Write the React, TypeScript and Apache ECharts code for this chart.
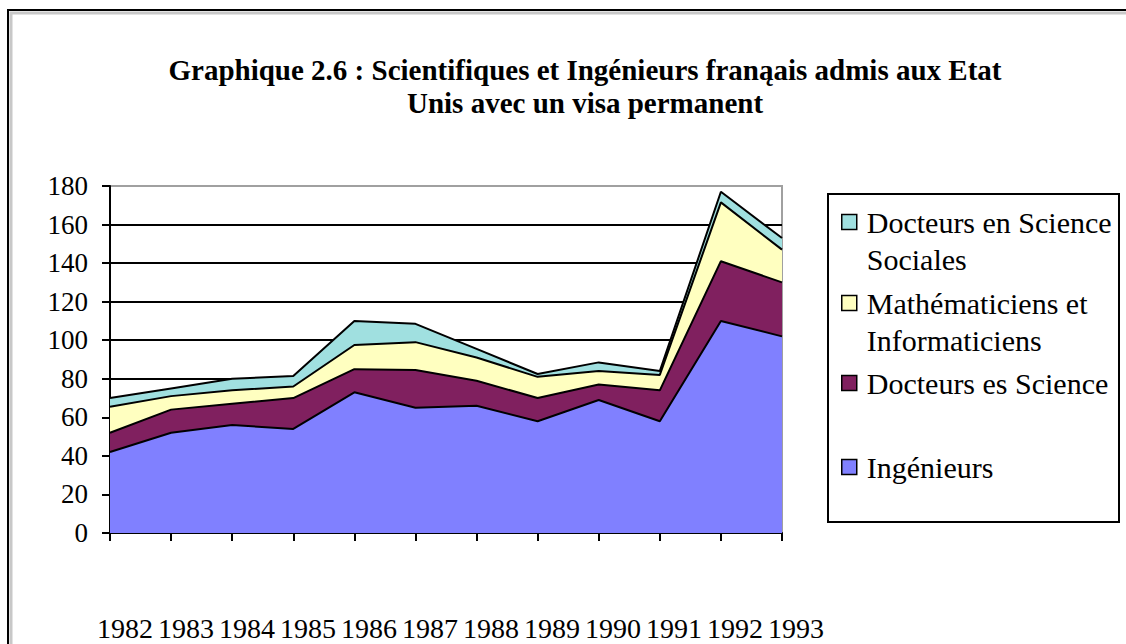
import React, { useEffect, useRef } from 'react';
import * as echarts from 'echarts';

const FONT = "'Liberation Serif', 'Times New Roman', 'DejaVu Serif', serif";

const years = ['1982', '1983', '1984', '1985', '1986', '1987', '1988', '1989', '1990', '1991', '1992', '1993'];
const ingenieurs = [42, 52, 56, 54, 73, 65, 66, 58, 69, 58, 110, 102];
const docteursSciences = [10, 12, 11, 16, 12, 19.5, 13, 12, 8, 16, 31, 28];
const mathInfo = [13.5, 7, 7, 6, 12.5, 14.5, 12, 11, 7, 8, 30.5, 17];
const docteursSocial = [4.5, 4, 6, 5.5, 12.5, 9.5, 4.5, 1.5, 4.5, 2, 5.5, 6];

const titleLines = [
  'Graphique 2.6 : Scientifiques et Ingénieurs franąais admis aux Etat',
  'Unis avec un visa permanent',
];

const seriesDefs = [
  { name: 'Ingénieurs', label: 'Ingénieurs', data: ingenieurs, color: '#8080FF' },
  { name: 'Docteurs es Sciences', label: 'Docteurs es Sciences', data: docteursSciences, color: '#80205F' },
  { name: 'Mathématiciens et Informaticiens', label: 'Mathématiciens et\nInformaticiens', data: mathInfo, color: '#FFFFC0' },
  { name: 'Docteurs en Sciences Sociales', label: 'Docteurs en Sciences\nSociales', data: docteursSocial, color: '#A0E0E0' },
];

// legend first-line centre positions (top to bottom: Social, Math, Docteurs es, Ingénieurs)
const legendOrder = [
  { idx: 3, line: 222 },
  { idx: 2, line: 303 },
  { idx: 1, line: 383 },
  { idx: 0, line: 467 },
];

export default function App() {
  const ref = useRef<HTMLDivElement>(null);
  useEffect(() => {
    if (!ref.current) return;
    const chart = echarts.init(ref.current, null, { renderer: 'svg' });
    const lineH = 37;
    const legends = legendOrder.map(({ idx, line }) => {
      const d = seriesDefs[idx];
      const twoLine = d.label.includes('\n');
      const top = twoLine ? line - 7.5 - 48 : line - 18.5;
      return {
        show: true,
        orient: 'vertical',
        left: 841,
        top,
        padding: 0,
        itemGap: 0,
        itemWidth: 15,
        itemHeight: 15,
        icon: 'rect',
        selectedMode: false,
        data: [d.name],
        formatter: () => (twoLine ? ' \n' + d.label : d.label),
        itemStyle: { borderColor: '#000', borderWidth: 1.5 },
        textStyle: {
          fontFamily: FONT,
          fontSize: 30,
          color: '#000',
          lineHeight: lineH,
          padding: [0, 0, 0, 5],
          width: 248,
          overflow: 'truncate',
          ellipsis: '',
        },
      };
    });

    chart.setOption({
      animation: false,
      backgroundColor: '#fff',
      textStyle: { fontFamily: FONT },
      graphic: [
        {
          type: 'rect',
          shape: { x: 11, y: 13, width: 1300, height: 800 },
          style: { fill: 'none', stroke: '#c8c8c8', lineWidth: 3 },
          silent: true,
        },
        {
          type: 'rect',
          shape: { x: 8, y: 10, width: 1300, height: 800 },
          style: { fill: 'none', stroke: '#000', lineWidth: 2 },
          silent: true,
        },
        {
          type: 'rect',
          shape: { x: 828, y: 194, width: 291, height: 328 },
          style: { fill: 'none', stroke: '#000', lineWidth: 2 },
          silent: true,
        },
        ...titleLines.map((t, i) => ({
          type: 'text',
          x: 585,
          y: 70 + i * 33,
          style: {
            text: t,
            fontFamily: FONT,
            fontSize: 29,
            fontWeight: 'bold',
            fill: '#000',
            align: 'center',
            verticalAlign: 'middle',
          },
          silent: true,
        })),
      ],
      legend: legends,
      grid: [
        { left: 110, right: 344, top: 186, bottom: 111, show: true, borderColor: '#a0a0a0', borderWidth: 2, backgroundColor: 'transparent' },
        { left: 125, width: 671, top: 533, height: 1, show: false },
      ],
      xAxis: [
        {
          type: 'category',
          gridIndex: 0,
          data: years,
          boundaryGap: false,
          axisLine: { show: true, lineStyle: { color: '#000', width: 2 } },
          axisTick: { show: true, length: 8, lineStyle: { color: '#000', width: 2 } },
          axisLabel: { show: false },
          splitLine: { show: false },
        },
        {
          type: 'category',
          gridIndex: 1,
          data: years,
          boundaryGap: false,
          axisLine: { show: false },
          axisTick: { show: false },
          splitLine: { show: false },
          axisLabel: { interval: 0, fontFamily: FONT, fontSize: 28, color: '#000', margin: 81, lineHeight: 27 },
        },
      ],
      yAxis: [
        {
          type: 'value',
          gridIndex: 0,
          min: 0,
          max: 180,
          interval: 20,
          axisLine: { show: true, lineStyle: { color: '#000', width: 2 } },
          axisTick: { show: true, length: 8, lineStyle: { color: '#000', width: 2 } },
          axisLabel: { fontFamily: FONT, fontSize: 27, color: '#000', margin: 22 },
          splitLine: { show: true, showMaxLine: false, lineStyle: { color: '#000', width: 2 } },
        },
        { type: 'value', gridIndex: 1, show: false },
      ],
      series: seriesDefs.map((d) => ({
        name: d.name,
        type: 'line',
        xAxisIndex: 0,
        yAxisIndex: 0,
        stack: 'total',
        symbol: 'none',
        color: d.color,
        itemStyle: { color: d.color },
        lineStyle: { color: '#000', width: 2 },
        areaStyle: { color: d.color, opacity: 1 },
        data: d.data,
      })),
    });
    return () => chart.dispose();
  }, []);
  return (
    <div
      ref={ref}
      style={{ position: 'absolute', left: 0, top: 0, width: 1126, height: 644 }}
    />
  );
}
